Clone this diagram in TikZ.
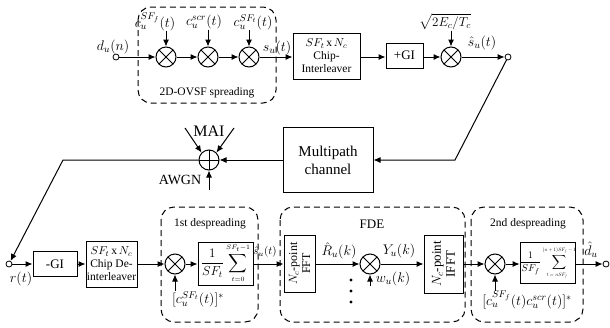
\RequirePackage{fix-cm}
\documentclass[tikz,border=0pt]{standalone}
\usepackage{amsmath,amssymb}
\usepackage{fontspec}
\setmainfont{Liberation Serif}
\usepackage{tikz}
\usetikzlibrary{arrows.meta,calc}
\usetikzlibrary{positioning}

\begin{document}
\begin{tikzpicture}[x=1pt,y=-1pt,>={Latex[length=7pt,width=6pt]},line width=1pt,
  every node/.style={align=center,inner sep=0pt},
  blk/.style={draw,fill=white,font=\fontsize{11.5}{13}\selectfont},
  mult/.style={draw,circle,fill=white,minimum size=20pt,
    path picture={\draw (path picture bounding box.north west) -- (path picture bounding box.south east)
      (path picture bounding box.north east) -- (path picture bounding box.south west);}},
  adder/.style={draw,circle,fill=white,minimum size=20pt,
    path picture={\draw (path picture bounding box.north) -- (path picture bounding box.south)
      (path picture bounding box.west) -- (path picture bounding box.east);}},
  port/.style={draw,circle,fill=white,minimum size=6pt,line width=0.8pt},
  group/.style={draw,dash pattern=on 6pt off 4pt,rounded corners=13pt},
  lbl/.style={font=\fontsize{11.5}{13}\selectfont},
  sig/.style={font=\fontsize{14}{16}\selectfont}]
\useasboundingbox (0,0) rectangle (610,327);

% transmitter
\draw[group] (138,7) rectangle (276,103);
\node[lbl] (splbl) at (207,93) {2D-OVSF spreading};
\node[port] (din) at (116,57) {};
\node[sig] (dlbl) at (113,47) {$d_u(n)$};
\node[mult] (m1) at (166,57) {};
\node[mult] (m2) at (208,57) {};
\node[mult] (m3) at (249,57) {};
\node[sig] (c1) at (155,22) {$c_u^{SF_f}(t)$};
\node[sig] (c2) at (204,22) {$c_u^{scr}(t)$};
\node[sig] (c3) at (253,22) {$c_u^{SF_t}(t)$};
\node[sig] (sulbl) at (277,48) {$s_u(t)$};
\node[blk,minimum width=67pt,minimum height=46pt] (il) at (326.5,56) {$SF_t$\,x\,$N_c$\\Chip-\\Interleaver};
\node[blk,minimum width=37pt,minimum height=25pt,font=\fontsize{13}{15}\selectfont] (gi) at (404.5,55.5) {+GI};
\node[mult] (m4) at (451,57) {};
\node[sig,font=\fontsize{13}{15}\selectfont] (amp) at (445,22) {$\sqrt{2E_c/T_c}$};
\node[sig] (shat) at (482,43) {$\hat{s}_u(t)$};
\node[port] (tx) at (508,57) {};

\draw[->] (din) -- (m1);
\draw[->] (m1) -- (m2);
\draw[->] (m2) -- (m3);
\draw[->] (m3) -- (il.west |- m3);
\draw[->] (il.east |- m4) -- (gi.west |- m4);
\draw[->] (gi.east |- m4) -- (m4);
\draw[->] (m4) -- (tx);
\draw[->] (c1.south -| m1) -- (m1);
\draw[->] (c2.south -| m2) -- (m2);
\draw[->] (c3.south -| m3) -- (m3);
\draw[->] (amp.south -| m4) -- (m4);

% channel
\node[blk,minimum width=90pt,minimum height=65pt,font=\fontsize{15}{18}\selectfont] (mp) at (328,160) {Multipath\\channel};
\node[adder] (add) at (209,160) {};
\node[font=\fontsize{16}{18}\selectfont] (mai) at (209,131) {MAI};
\node[font=\fontsize{14}{16}\selectfont] (awgn) at (180,180) {AWGN};
\coordinate (maiL) at (185,128);
\coordinate (maiR) at (234,128);
\coordinate (noise) at (209,190);
\coordinate (k1) at (455,160);
\coordinate (k2) at (63,160);

\draw[->] (tx) -- (k1) -- (mp.east);
\draw[->] (mp) -- (add);
\draw[->] (maiL) -- (add.north west);
\draw[->] (maiR) -- (add.north east);
\draw[->] (noise) -- (add);

% receiver
\draw[group] (161,207) rectangle (258,322);
\draw[group] (280,207) rectangle (465,322);
\draw[group] (471,207) rectangle (583,322);
\node[lbl] (ds1lbl) at (210,224) {1st despreading};
\node[font=\fontsize{13}{15}\selectfont] (fdelbl) at (372,224) {FDE};
\node[lbl] (ds2lbl) at (528,224) {2nd despreading};

\node[port] (rx) at (9,264) {};
\node[sig] (rlbl) at (21,279) {$r(t)$};
\node[blk,minimum width=44pt,minimum height=25pt,font=\fontsize{13}{15}\selectfont] (mgi) at (55,264) {-GI};
\node[blk,minimum width=51pt,minimum height=46pt] (dil) at (111.5,264) {$SF_t$\,x\,$N_c$\\Chip De-\\interleaver};
\node[mult] (m5) at (175,264) {};
\node[sig] (c4) at (198,299) {$[c_u^{SF_t}(t)]^*$};
\node[blk,minimum width=55pt,minimum height=43pt,font=\fontsize{13}{15}\selectfont] (sum1) at (225.5,263.5) {$\dfrac{1}{SF_t}\displaystyle\sum_{\scriptscriptstyle t=0}^{\scriptscriptstyle SF_t-1}$};
\node[font=\fontsize{11}{13}\selectfont] (s2lbl) at (265,252) {$\hat{s}_u(t)$};
\node[blk,rotate=90,minimum width=57pt,minimum height=31pt,font=\fontsize{12}{13}\selectfont] (fft) at (299.5,263.5) {$N_c$-point\\FFT};
\node[sig] (rhat) at (339,251) {$\hat{R}_u(k)$};
\node[mult] (m6) at (370,264) {};
\coordinate (wsrc) at (370,286);
\node[sig] (wlbl) at (393,279) {$w_u(k)$};
\node[sig] (ylbl) at (399,251) {$Y_u(k)$};
\node[blk,rotate=90,minimum width=58pt,minimum height=39pt,font=\fontsize{13}{14}\selectfont] (ifft) at (443.5,264) {$N_c$-point\\IFFT};
\node[mult] (m7) at (495,264) {};
\node[sig] (c5) at (527,300) {$[c_u^{SF_f}(t)c_u^{scr}(t)]^*$};
\node[blk,minimum width=50pt,minimum height=41pt,font=\fontsize{10}{12}\selectfont] (sum2) at (548,263) {$\dfrac{1}{SF_f}\displaystyle\sum_{\scalebox{0.5}{$t=nSF_f$}}^{\scalebox{0.5}{$(n+1)SF_f-1$}}$};
\node[sig] (dhat) at (591,250) {$\hat{d}_u$};
\node[port] (rxout) at (606,264) {};

\draw[->] (add) -- (k2) -- (rx);
\draw[->] (rx) -- (mgi.west |- rx);
\draw[->] (mgi.east |- rx) -- (dil.west |- rx);
\draw[->] (dil.east |- rx) -- (m5);
\draw[->] (c4.north -| m5) -- (m5);
\draw[->] (m5) -- (sum1.west |- m5);
\draw[->] (sum1.east |- m5) -- (fft.north |- m5);
\draw[->] (fft.south |- m6) -- (m6);
\draw[->] (wsrc) -- (m6);
\draw[->] (m6) -- (ifft.north |- m6);
\draw[->] (ifft.south |- m7) -- (m7);
\draw[->] (c5.north -| m7) -- (m7);
\draw[->] (m7) -- (sum2.west |- m7);
\draw[->] (sum2.east |- m7) -- (rxout);
\foreach \yy in {280,291,302}
  \fill (351,\yy) circle (1.6pt);
\end{tikzpicture}
\end{document}
